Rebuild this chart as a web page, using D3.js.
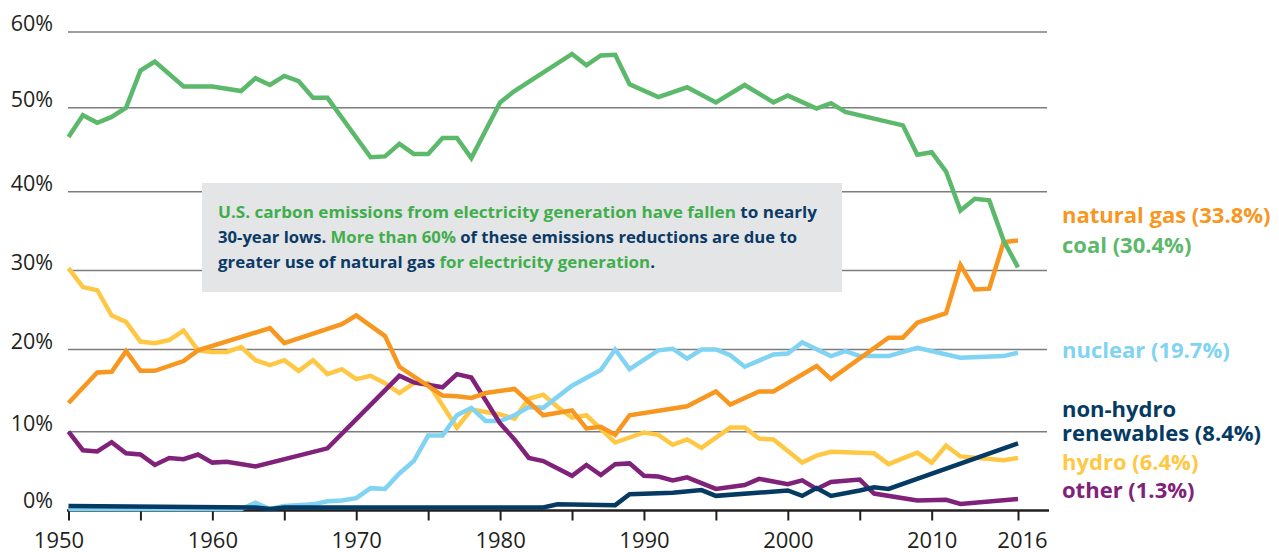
<!DOCTYPE html>
<html><head><meta charset="utf-8">
<script src="https://cdn.jsdelivr.net/npm/d3@7"></script>
<style>
html,body{margin:0;padding:0;background:#fff;}
svg{display:block;font-family:"Open Sans",sans-serif;}
</style></head><body>
<svg id="chart" width="1279" height="552"></svg>
<script>
// ---------- data (share of U.S. electricity generation, %) ----------
const years = d3.range(1950, 2017);
const coal = [
  46.5, 49.1, 48.2, 48.9, 50.0, 54.9, 56.1, null, 52.8, null,
  52.8, null, 52.2, 53.9, 53.0, 54.2, 53.5, 51.3, 51.3, null,
  null, 44.1, 44.2, 45.7, 44.5, 44.5, 46.4, 46.4, 44.0, null,
  50.7, 52.2, null, null, null, 57.1, 55.6, 56.9, 57.0, 53.1,
  null, 51.4, null, 52.7, null, 50.7, null, 53.0, null, 50.7,
  51.6, null, 49.9, 50.6, 49.5, null, null, null, 47.9, 44.4,
  44.7, 42.4, 37.6, 39.1, 38.9, 33.8, 30.4];
const naturalGas = [
  13.5, null, 17.2, 17.3, 19.8, 17.4, 17.4, null, 18.6, 19.9,
  null, null, null, null, 22.7, 20.8, null, null, null, 23.2,
  24.3, null, 21.7, 17.9, null, null, 14.4, 14.3, 14.1, 14.7,
  null, 15.2, null, 12.0, null, 12.6, 10.4, 10.6, 9.6, 12.0,
  null, null, null, 13.1, null, 14.9, 13.3, null, 14.9, 14.9,
  null, null, 18.0, 16.4, null, null, null, 21.5, 21.5, 23.4,
  null, 24.6, 30.7, 27.6, 27.7, 33.6, 33.8];
const nuclear = [
  0, null, null, null, null, null, null, null, null, null,
  null, null, 0, 0.8, 0, 0.4, null, 0.6, 1.0, 1.1,
  1.4, 2.7, 2.6, 4.6, 6.2, 9.5, 9.5, 12.0, 12.9, 11.3,
  11.3, 12.0, 13.0, 12.9, null, 15.6, null, 17.5, 20.0, 17.6,
  null, 19.9, 20.1, 18.9, 20.0, 20.0, 19.3, 17.9, null, 19.4,
  19.5, 20.9, null, 19.2, 19.8, 19.2, null, 19.2, null, 20.2,
  null, null, 19.0, null, null, 19.2, 19.6];
const hydro = [
  30.3, 27.9, 27.5, 24.3, 23.5, 21.0, 20.8, 21.2, 22.4, 19.9,
  19.7, 19.7, 20.3, 18.7, 18.1, 18.7, 17.4, 18.7, 17.0, 17.6,
  16.4, 16.8, 15.9, 14.7, 15.9, 15.9, null, 10.5, 12.7, null,
  12.1, 11.6, 14.0, 14.5, 13.0, 11.7, 12.0, null, 8.6, null,
  9.9, 9.6, 8.3, 9.0, 7.9, null, 10.5, 10.5, 9.1, 9.0,
  null, 6.0, 6.9, 7.4, null, null, 7.2, 5.8, null, 7.3,
  6.0, 8.2, 6.8, null, null, 6.3, 6.6];
const renewables = [
  0.4, null, null, null, null, null, null, null, null, null,
  null, null, null, 0.2, 0.0, 0.2, null, null, null, null,
  null, null, null, null, null, null, null, null, null, null,
  null, null, null, 0.2, 0.6, null, null, null, 0.5, 1.9,
  null, null, 2.1, null, 2.45, 1.7, null, null, null, null,
  2.4, 1.7, 2.7, 1.7, null, 2.4, 2.8, 2.6, null, null,
  null, null, null, null, null, null, 8.5];
const other = [
  10.0, 7.6, 7.45, 8.65, 7.2, 7.05, 5.7, 6.6, 6.45, 7.05,
  6.0, 6.1, null, 5.5, null, null, null, null, 7.85, null,
  null, null, null, 16.8, 16.0, null, 15.4, 17.0, 16.6, null,
  11.0, 9.0, 6.6, 6.2, null, 4.3, 5.7, 4.4, 5.8, 5.9,
  4.3, 4.2, 3.7, 4.1, null, 2.6, null, 3.1, 3.9, null,
  3.2, 3.7, 2.6, 3.5, null, 3.8, 2.0, null, null, 1.1,
  null, 1.2, 0.65, null, null, null, 1.3];

const yTicks = [0, 10, 20, 30, 40, 50, 60];
const yTickLabels = ["0%", "10%", "20%", "30%", "40%", "50%", "60%"];
const xTicks = [1950, 1955, 1960, 1965, 1970, 1975, 1980, 1985, 1990, 1995, 2000, 2005, 2010, 2016];
const xTickLabels = ["1950", "", "1960", "", "1970", "", "1980", "", "1990", "", "2000", "", "2010", "2016"];

const seriesNames = ["hydro", "nuclear", "other", "natural gas", "non-hydro renewables", "coal"];
const seriesValues = [hydro, nuclear, other, naturalGas, renewables, coal];
const seriesColors = ["#ffc844", "#80d3f2", "#80217a", "#f8971f", "#053a63", "#5cb96b"];

const legendLines = [
  [["natural gas (33.8%)"], "#f8971f"],
  [["coal (30.4%)"], "#5cb96b"],
  [["nuclear (19.7%)"], "#80d3f2"],
  [["non-hydro", "renewables (8.4%)"], "#053a63"],
  [["hydro (6.4%)"], "#ffc844"],
  [["other (1.3%)"], "#80217a"]
];

const GREEN = "#3fae4b", NAVY = "#0b3a66";
const noteLines = [
  [["U.S. carbon emissions from electricity generation have fallen", GREEN], [" to nearly", NAVY]],
  [["30-year lows. ", NAVY], ["More than 60%", GREEN], [" of these emissions reductions are due to", NAVY]],
  [["greater use of natural gas ", NAVY], ["for electricity generation", GREEN], [".", NAVY]]
];

// ---------- layout ----------
const svg = d3.select("#chart");
const x = d3.scaleLinear().domain([1950, 2016]).range([68.5, 1018]);
const y = d3.scaleLinear().domain(yTicks).range([509, 431.7, 349.5, 270.5, 191.7, 107.7, 32]);
const gridX0 = 68, gridX1 = 1047;

// gridlines
svg.append("g").selectAll("line")
  .data(yTicks.filter(d => d > 0))
  .join("line")
  .attr("x1", gridX0).attr("x2", gridX1)
  .attr("y1", d => y(d)).attr("y2", d => y(d))
  .attr("stroke", "#7d7d7d").attr("stroke-width", 1.6);

// y labels
svg.append("g").selectAll("text")
  .data(yTicks)
  .join("text")
  .attr("x", 53).attr("y", d => y(d) - 1)
  .attr("text-anchor", "end")
  .attr("font-size", 21.5).attr("fill", "#231f20")
  .text((d, i) => yTickLabels[i]);

// annotation box
const box = svg.append("g");
box.append("rect").attr("x", 202).attr("y", 183).attr("width", 640).attr("height", 109).attr("fill", "#e4e5e7");
const noteWidths = [599, 579, 437];
noteLines.forEach((segs, i) => {
  const t = box.append("text")
    .attr("x", 218).attr("y", 218 + i * 25)
    .attr("font-size", 16).attr("font-weight", 700)
    .attr("textLength", noteWidths[i]).attr("lengthAdjust", "spacingAndGlyphs");
  segs.forEach(([s, c]) => t.append("tspan").attr("fill", c).text(s));
});

// x axis
const axisY = y(0) + 1.5;
const xAxis = d3.axisBottom(x).tickValues(xTicks).tickSize(10)
  .tickFormat((d, i) => xTickLabels[i]);
const gx = svg.append("g").attr("transform", `translate(0,${axisY})`).call(xAxis);
gx.select(".domain").remove();
gx.selectAll(".tick line").attr("stroke", "#231f20").attr("stroke-width", 2);
gx.selectAll(".tick text")
  .attr("y", 37).attr("dy", 0)
  .attr("font-family", "Open Sans, sans-serif")
  .attr("font-size", 22).attr("fill", "#231f20")
  .attr("dx", d => d === 1950 ? -10 : (d === 2016 ? 4 : 0));
gx.append("line").attr("x1", 67).attr("x2", 1049).attr("y1", 0).attr("y2", 0)
  .attr("stroke", "#231f20").attr("stroke-width", 2.4);

// lines
const line = d3.line().x(d => x(d.yr)).y(d => y(d.v));
svg.append("g").selectAll("path")
  .data(seriesValues.map((vals, i) => ({
    name: seriesNames[i], color: seriesColors[i],
    pts: years.map((yr, j) => ({ yr, v: vals[j] })).filter(d => d.v !== null)
  })))
  .join("path")
  .attr("fill", "none")
  .attr("stroke", d => d.color)
  .attr("stroke-width", 4.5)
  .attr("stroke-linejoin", "miter")
  .attr("d", d => line(d.pts));

// series labels
const legendY = [223, 253, 358, 417, 470, 498];
const lg = svg.append("g");
legendLines.forEach(([txts, color], i) => {
  const t = lg.append("text").attr("x", 1062).attr("y", legendY[i])
    .attr("font-size", 22).attr("font-weight", 700).attr("fill", color);
  txts.forEach((s, k) => {
    t.append("tspan").attr("x", 1062).attr("dy", k === 0 ? 0 : 23.5).text(s);
  });
});
</script>
</body></html>
